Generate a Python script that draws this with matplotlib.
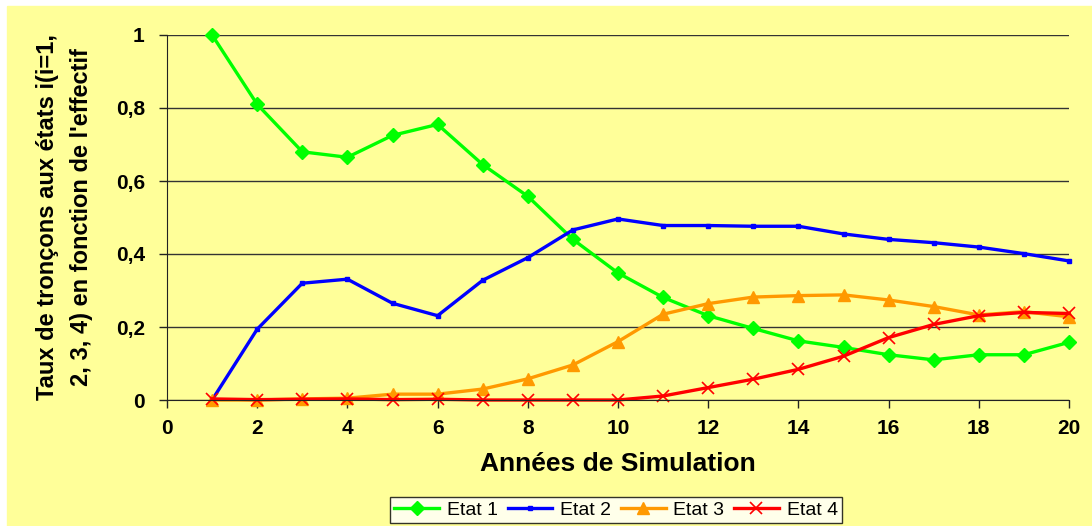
import matplotlib
matplotlib.use('Agg')
import matplotlib.pyplot as plt
from matplotlib.ticker import FuncFormatter

plt.rcParams['font.family'] = ['Liberation Sans', 'DejaVu Sans']

annees = list(range(1, 21))
etat1 = [1.0, 0.81, 0.68, 0.665, 0.725, 0.755, 0.645, 0.558, 0.44, 0.348,
         0.281, 0.231, 0.196, 0.162, 0.144, 0.124, 0.110, 0.124, 0.124, 0.158]
etat2 = [0.0, 0.194, 0.32, 0.331, 0.265, 0.231, 0.328, 0.39, 0.466, 0.496,
         0.478, 0.478, 0.476, 0.476, 0.455, 0.44, 0.431, 0.419, 0.401, 0.381]
etat3 = [0.0, 0.0, 0.003, 0.005, 0.016, 0.016, 0.03, 0.058, 0.096, 0.16,
         0.235, 0.264, 0.282, 0.286, 0.288, 0.274, 0.256, 0.233, 0.242, 0.228]
etat4 = [0.003, 0.001, 0.002, 0.003, 0.001, 0.002, 0.0, 0.0, 0.0, 0.0,
         0.011, 0.034, 0.057, 0.084, 0.12, 0.171, 0.207, 0.231, 0.24, 0.237]

bg = '#FFFF99'
fig = plt.figure(figsize=(10.92, 5.26), dpi=100)
fig.patch.set_facecolor('white')
# yellow chart area (thin white strip on top and left like the original)
fig.patches.append(plt.Rectangle((7 / 1092, 0), 1, 1 - 6 / 526,
                                 transform=fig.transFigure, color=bg, zorder=-10))

ax = fig.add_axes([167 / 1092, 1 - 400 / 526, (1069 - 167) / 1092, 365 / 526])
ax.set_facecolor(bg)

ax.plot(annees, etat1, color='#00FF00', lw=2.4, marker='D', ms=7, label='Etat 1', clip_on=False)
ax.plot(annees, etat2, color='#0000FF', lw=2.4, marker='s', ms=3.5, label='Etat 2', clip_on=False)
ax.plot(annees, etat3, color='#FF9900', lw=2.4, marker='^', ms=9, label='Etat 3', clip_on=False)
ax.plot(annees, etat4, color='#FF0000', lw=2.4, marker='x', ms=9, mew=1.2, label='Etat 4', clip_on=False)

ax.set_xlim(0, 20)
ax.set_ylim(0, 1)
ax.set_xticks(range(0, 21, 2))
ax.set_yticks([0, 0.2, 0.4, 0.6, 0.8, 1])
ax.yaxis.set_major_formatter(FuncFormatter(lambda v, p: ('%g' % v).replace('.', ',')))
ax.grid(axis='y', color='#333333', lw=1)
ax.set_axisbelow(True)
for s in ['top', 'right']:
    ax.spines[s].set_visible(False)
ax.spines['left'].set_color('#222222')
ax.spines['bottom'].set_color('#222222')
ax.tick_params(axis='both', direction='out', length=6, width=1, color='#222222',
               labelsize=15, pad=8)
ax.tick_params(axis='y', pad=10)
for lab in ax.get_xticklabels() + ax.get_yticklabels():
    lab.set_fontweight('bold')

ax.set_xlabel('Années de Simulation', fontsize=19, fontweight='bold', labelpad=10)
ax.set_ylabel("Taux de tronçons aux états i(i=1,\n2, 3, 4) en fonction de l'effectif",
              fontsize=17, fontweight='bold', labelpad=16, linespacing=1.65)

leg = fig.legend(loc='center', bbox_to_anchor=(616 / 1092, 1 - 510 / 526), ncol=4,
                 fontsize=14, frameon=True, fancybox=False, edgecolor='black',
                 handlelength=2.3, columnspacing=0.5, handletextpad=0.4,
                 borderpad=0.2)
leg.get_frame().set_linewidth(1)

fig.savefig('out.png', dpi=100, facecolor=fig.get_facecolor())
